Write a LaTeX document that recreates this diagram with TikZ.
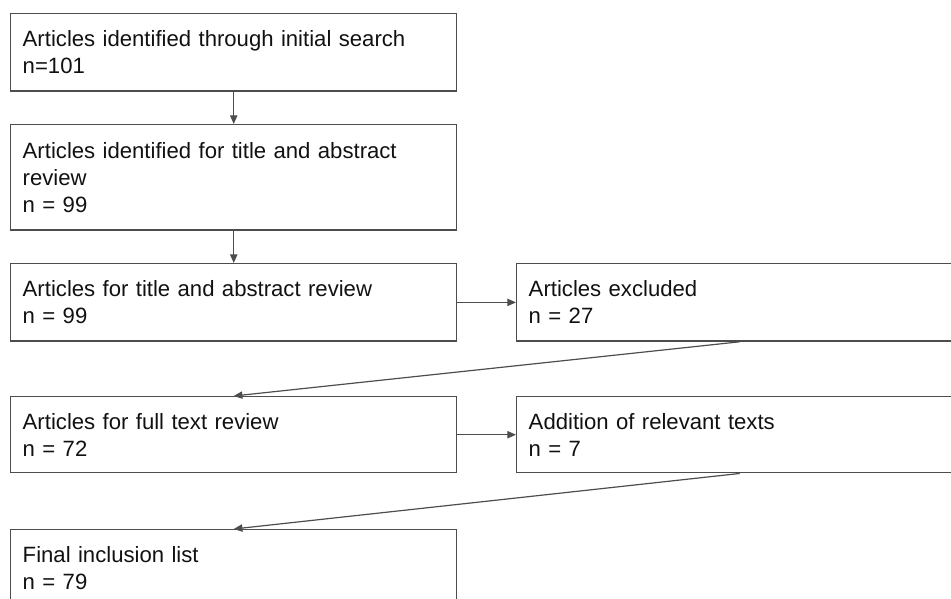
\documentclass[tikz,border=0pt]{standalone}
\usepackage{fontspec}
\setmainfont{Liberation Sans}
\definecolor{boxgray}{HTML}{4D4D4D}
\definecolor{textgray}{HTML}{111111}
\usetikzlibrary{arrows.meta}

\begin{document}
\begin{tikzpicture}[x=0.75pt,y=-0.75pt,
    stagebox/.style={draw=boxgray,line width=1.1pt,anchor=north west,
      minimum width=334.5pt,minimum height=58pt,text width=316.5pt,
      inner xsep=9pt,align=left,text=textgray,
      font=\fontsize{16.6}{20.3}\selectfont},
    flow/.style={-{Triangle[length=6.5pt,width=5.5pt]},boxgray,line width=0.9pt}]
    % Page frame
    \useasboundingbox (0,0) rectangle (951,599);
    \clip (0,0) rectangle (951,599);

    % Left column of stages
    \node[stagebox] (search) at (10,13) {Articles identified through initial search\\n=101};
    \node[stagebox,minimum height=79pt] (ident) at (10,124)
      {Articles identified for title and abstract\\review\\n = 99};
    \node[stagebox] (screen) at (10,263) {Articles for title and abstract review\\n = 99};
    \node[stagebox,minimum height=57pt] (full) at (10,396) {Articles for full text review\\n = 72};
    \node[stagebox] (final) at (10,529) {Final inclusion list\\n = 79};

    % Right column
    \node[stagebox] (excl) at (516,263) {Articles excluded\\n = 27};
    \node[stagebox,minimum height=57pt] (added) at (516,396) {Addition of relevant texts\\n = 7};

    % Connectors
    \draw[flow] (search) -- (ident);
    \draw[flow] (ident) -- (screen);
    \draw[flow] (screen) -- (excl);
    \draw[flow] (excl.south) -- (full.north);
    \draw[flow] (full) -- (added);
    \draw[flow] (added.south) -- (final.north);
  \end{tikzpicture}
\end{document}
